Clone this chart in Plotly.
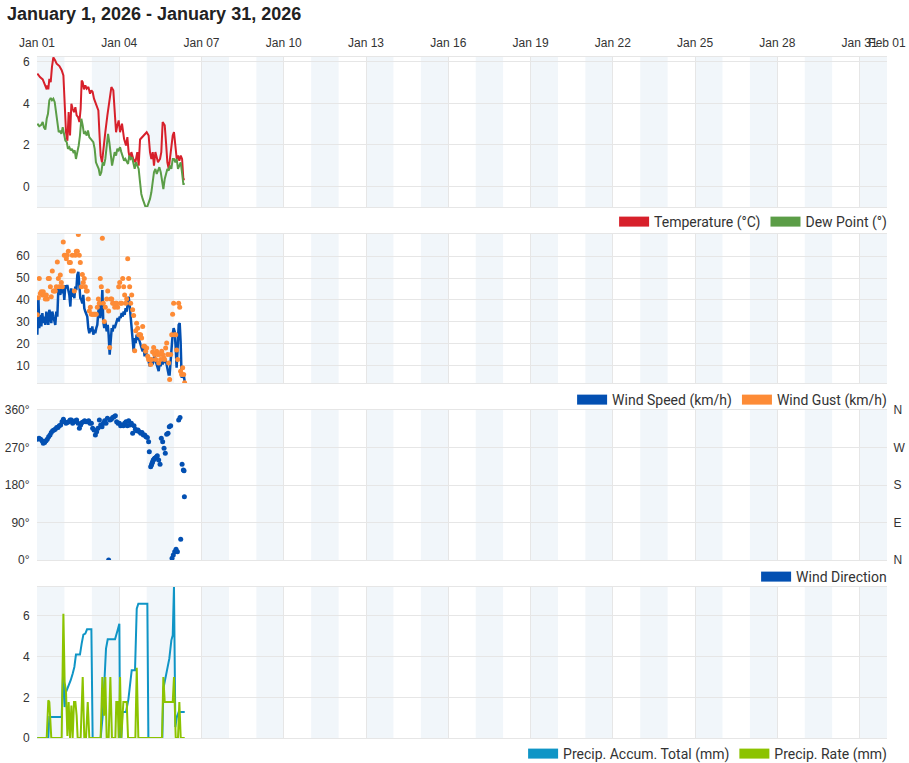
import pandas as pd
import plotly.graph_objects as go

START = pd.Timestamp("2026-01-01")
END = pd.Timestamp("2026-02-01")
TITLE = "January 1, 2026 - January 31, 2026"

# observations as (hours since Jan 1 00:00, value)
temperature = [
    (0.3, 5.44), (2.6, 5.27), (5.0, 5.16), (6.1, 5.03), (7.3, 4.87), (8.5, 4.68), (9.0, 4.87),
    (9.9, 4.68), (10.8, 5.19), (12.0, 5.03), (13.1, 5.76), (14.3, 6.22), (15.8, 6.08), (17.2, 5.92),
    (19.6, 5.8), (21.6, 5.6), (23.1, 5.35), (24.2, 3.58), (25.4, 2.6), (26.6, 2.2), (27.7, 3.58),
    (28.9, 2.45), (30.1, 3.98), (31.2, 3.74), (32.4, 3.58), (33.6, 3.82), (34.7, 3.42), (35.9, 3.34),
    (37.1, 3.1), (38.2, 3.74), (39.1, 5.11), (40.0, 5.03), (41.1, 4.68), (42.3, 4.87), (43.5, 4.71),
    (45.0, 4.79), (46.4, 4.47), (47.6, 4.63), (48.7, 4.55), (49.9, 4.23), (51.6, 3.98), (53.7, 3.66),
    (54.6, 2.61), (55.7, 1.48), (56.9, 1.16), (58.1, 1.65), (59.8, 2.61), (61.6, 3.42), (63.3, 4.06),
    (65.1, 4.79), (66.8, 4.63), (68.0, 3.26), (69.2, 2.61), (70.3, 2.94), (71.5, 3.18), (72.7, 2.61),
    (74.4, 3.02), (76.2, 2.29), (77.9, 1.97), (79.1, 2.37), (80.2, 1.65), (81.4, 1.32), (82.6, 1.65),
    (84.3, 1.32), (86.1, 1.16), (87.8, 1.65), (89.0, 1.0), (90.2, 2.26), (91.9, 2.37), (93.7, 2.45),
    (96.0, 2.61), (97.7, 2.45), (98.9, 1.65), (100.1, 1.32), (101.3, 1.65), (102.4, 1.0), (103.6, 1.65),
    (104.8, 1.4), (105.9, 1.16), (107.7, 1.32), (108.8, 1.65), (110.0, 3.1), (111.8, 2.94), (112.9, 2.13),
    (114.1, 1.16), (115.3, 0.84), (116.4, 1.32), (117.6, 1.65), (118.8, 2.45), (119.9, 2.61), (121.1, 1.81),
    (122.3, 1.32), (123.4, 1.48), (124.6, 1.24), (125.8, 1.48), (127.0, 1.32), (128.1, 0.35), (129.3, 0.32),
]

dew_point = [
    (0.3, 3.02), (2.0, 2.9), (3.8, 2.97), (5.0, 3.1), (6.1, 2.85), (7.3, 2.74), (8.5, 3.26), (9.6, 3.5),
    (10.8, 4.15), (12.0, 4.26), (13.1, 4.15), (14.3, 4.23), (15.5, 4.06), (16.6, 3.58), (17.8, 3.34),
    (19.0, 2.61), (20.1, 2.69), (21.3, 2.53), (22.5, 2.85), (23.6, 2.53), (24.8, 2.21), (26.0, 2.13),
    (27.1, 1.81), (28.3, 1.89), (29.5, 1.73), (30.6, 1.81), (31.8, 1.65), (33.0, 1.73), (34.1, 1.32),
    (35.3, 1.65), (36.5, 1.97), (37.6, 2.45), (38.8, 3.26), (40.0, 2.94), (41.1, 2.53), (42.3, 2.61),
    (43.5, 2.45), (44.6, 2.69), (45.8, 2.37), (47.0, 2.29), (48.1, 2.21), (49.3, 2.13), (50.5, 1.81),
    (51.6, 1.16), (52.8, 1.0), (54.0, 0.84), (55.1, 0.52), (56.3, 0.68), (57.5, 1.16), (58.6, 1.0),
    (59.8, 1.32), (61.0, 1.97), (62.2, 2.53), (63.3, 2.13), (64.5, 1.65), (65.7, 1.0), (66.8, 1.32),
    (68.0, 1.65), (69.2, 1.48), (70.3, 1.81), (71.5, 1.73), (72.7, 1.89), (73.8, 1.65), (75.0, 1.4),
    (76.2, 1.24), (77.3, 1.32), (78.5, 1.16), (79.7, 1.08), (80.8, 1.48), (82.0, 1.32), (83.2, 1.4),
    (84.3, 1.08), (85.5, 0.84), (86.7, 1.16), (87.8, 1.0), (89.0, 0.84), (90.2, 0.19), (91.3, -0.37),
    (92.5, -0.61), (93.7, -0.85), (94.8, -0.97), (96.6, -0.97), (97.8, -0.77), (98.9, -0.61),
    (100.1, -0.29), (101.3, 0.19), (102.4, 0.68), (103.6, 0.84), (104.8, 0.6), (105.9, 0.76),
    (107.1, 0.92), (108.3, 0.68), (109.4, 0.19), (110.6, -0.13), (111.8, 0.35), (112.9, 0.68),
    (114.1, 0.84), (115.3, 0.76), (116.4, 1.0), (117.6, 0.84), (118.8, 1.32), (119.9, 1.32),
    (121.1, 1.16), (122.3, 1.32), (123.4, 0.84), (124.6, 1.0), (125.8, 1.16), (126.9, 0.68),
    (128.1, 0.11), (129.3, 0.11),
]

# (hours, wind speed km/h, wind gust km/h)
wind = [
    (0.3, 24.1, 33.2), (1.2, 41.5, 41.0), (2.0, 27.1, 49.8), (2.9, 33.2, 43.0), (3.8, 27.9, 43.8),
    (4.7, 34.0, 42.3), (5.5, 29.4, 43.8), (6.4, 32.4, 42.3), (7.3, 28.6, 40.5), (8.2, 34.7, 42.3),
    (9.0, 31.7, 40.5), (9.9, 28.6, 49.8), (10.8, 35.5, 49.8), (11.7, 33.2, 46.1), (12.5, 29.4, 41.5),
    (13.4, 34.7, 53.3), (14.3, 32.4, 44.1), (15.2, 30.9, 44.1), (16.0, 28.6, 44.1), (16.9, 34.7, 46.1),
    (17.8, 32.4, 57.4), (18.7, 45.3, 49.8), (19.5, 43.8, 46.1), (20.4, 42.3, 51.4), (21.3, 46.1, 48.0),
    (22.2, 43.0, 46.1), (23.0, 46.1, 66.5), (23.9, 40.0, 60.5), (24.8, 46.8, 60.5), (25.7, 45.3, 58.9),
    (26.5, 46.8, 60.5), (27.4, 44.5, 62.3), (28.3, 42.3, 57.1), (29.2, 37.0, 57.1), (30.0, 45.3, 53.3),
    (30.9, 41.5, 60.5), (31.8, 43.0, 53.3), (32.7, 40.8, 44.1), (33.5, 46.1, 60.5), (34.4, 44.5, 62.3),
    (35.3, 51.4, 62.3), (36.2, 52.9, 70.0), (37.0, 47.6, 60.5), (37.9, 40.8, 57.1), (38.8, 40.0, 46.1),
    (39.7, 38.5, 51.7), (40.5, 42.3, 48.0), (41.4, 36.2, 49.8), (42.3, 34.7, 46.1), (43.2, 33.2, 44.1),
    (44.0, 32.4, 44.1), (44.9, 27.1, 40.5), (45.8, 24.8, 35.0), (46.7, 27.1, 36.7), (47.5, 25.6, 33.5),
    (48.4, 27.9, 33.5), (49.3, 24.1, 33.5), (50.2, 26.4, 33.5), (51.0, 24.8, 33.5), (51.9, 27.1, 33.5),
    (52.8, 28.6, 36.7), (53.7, 34.7, 40.5), (54.5, 37.7, 38.5), (55.4, 31.7, 49.8), (56.3, 35.5, 46.1),
    (57.2, 44.5, 68.3), (58.0, 30.2, 38.5), (58.9, 27.1, 30.2), (59.8, 30.2, 36.7), (61.0, 25.6, 40.5),
    (61.9, 28.6, 44.1), (62.7, 24.1, 35.0), (63.6, 15.0, 18.3), (64.5, 21.1, 40.5), (65.4, 27.1, 40.5),
    (66.2, 25.6, 38.5), (67.1, 28.6, 38.5), (68.0, 27.1, 36.7), (68.9, 28.6, 38.5), (69.7, 29.4, 38.5),
    (70.6, 31.7, 36.7), (71.5, 30.2, 46.1), (72.4, 32.4, 48.0), (73.2, 31.7, 38.5), (74.1, 34.0, 38.5),
    (75.0, 32.4, 49.8), (75.9, 34.7, 46.1), (76.7, 33.2, 42.3), (77.6, 36.2, 38.5), (78.5, 34.7, 40.5),
    (79.4, 40.0, 58.9), (80.2, 41.5, 49.8), (81.1, 37.7, 46.1), (82.0, 31.7, 38.5), (82.9, 27.1, 42.3),
    (83.7, 20.3, 35.5), (84.6, 16.5, 32.9), (85.5, 22.6, 16.8), (86.4, 20.3, 25.9), (87.2, 24.1, 29.4),
    (88.1, 21.8, 27.1), (89.0, 22.6, 24.1), (89.9, 20.3, 24.1), (90.7, 19.5, 24.1), (91.6, 18.0, 22.6),
    (92.5, 16.5, 27.9), (93.4, 18.0, 18.8), (94.2, 14.2, 18.8), (95.1, 16.5, 16.5), (96.0, 14.2, 18.0),
    (96.9, 13.5, 14.2), (97.7, 12.0, 12.7), (98.6, 9.7, 12.7), (99.5, 12.0, 10.5), (100.4, 13.5, 12.7),
    (101.2, 10.5, 16.2), (102.1, 12.7, 18.3), (103.0, 14.2, 15.0), (103.9, 12.0, 12.7), (104.7, 10.5, 16.5),
    (105.6, 9.0, 15.0), (106.5, 7.4, 11.2), (107.4, 11.2, 15.0), (108.2, 9.7, 12.7), (109.1, 12.0, 16.5),
    (110.0, 10.5, 15.0), (110.9, 12.7, 13.5), (111.7, 11.2, 12.7), (112.6, 12.7, 18.0), (113.5, 10.5, 20.3),
    (114.4, 9.0, 15.0), (115.2, 5.9, 11.2), (116.1, 5.9, 3.6), (117.0, 13.5, 15.0), (117.9, 19.5, 24.1),
    (118.7, 24.1, 33.5), (119.6, 27.1, 38.5), (120.5, 25.6, 24.1), (121.4, 18.0, 24.1), (122.2, 9.0, 17.1),
    (123.1, 18.0, 12.7), (124.0, 28.6, 38.5), (124.9, 29.4, 36.7), (125.7, 21.1, 7.4), (126.6, 4.4, 5.9),
    (127.5, 5.9, 9.0), (128.4, 5.9, 5.9), (129.2, 2.9, 2.1),
]

wind_direction = [
    (0.3, 290), (1.8, 292), (3.2, 290), (4.4, 286), (5.5, 280), (6.7, 282), (7.9, 286), (9.0, 290),
    (10.2, 296), (11.4, 300), (12.5, 306), (13.7, 310), (14.9, 312), (16.0, 314), (17.2, 318), (18.4, 318),
    (19.5, 322), (20.7, 324), (21.9, 332), (23.1, 338), (24.2, 332), (25.4, 328), (26.6, 330), (27.7, 332),
    (28.9, 336), (30.1, 336), (31.2, 328), (32.4, 332), (33.6, 334), (34.7, 336), (35.9, 328), (37.1, 316),
    (38.2, 324), (39.4, 330), (40.6, 332), (41.7, 334), (42.9, 332), (44.1, 332), (45.2, 334), (46.4, 328),
    (47.6, 328), (48.7, 316), (49.9, 312), (51.1, 300), (52.2, 308), (53.4, 316), (54.6, 336), (55.7, 324),
    (56.9, 320), (58.1, 328), (59.2, 334), (60.4, 328), (61.6, 340), (62.7, 0), (63.9, 336), (65.1, 338),
    (66.2, 342), (67.4, 344), (68.6, 346), (69.7, 332), (70.9, 328), (72.1, 328), (73.2, 322), (74.4, 324),
    (75.6, 322), (76.7, 328), (77.9, 332), (79.1, 322), (80.2, 334), (81.4, 324), (82.6, 328), (83.7, 304),
    (84.9, 322), (86.1, 314), (87.2, 310), (88.4, 312), (89.6, 308), (90.8, 304), (91.9, 306), (93.1, 300),
    (94.3, 300), (95.4, 296), (96.6, 294), (97.7, 284), (98.3, 260), (99.5, 224), (100.2, 228),
    (100.7, 232), (101.2, 236), (101.8, 240), (102.4, 242), (103.0, 244), (103.6, 245), (104.2, 246),
    (104.8, 248), (105.3, 250), (106.5, 240), (107.7, 230), (108.8, 292), (110.0, 284), (111.2, 268),
    (112.3, 256), (113.5, 302), (114.7, 304), (115.8, 320), (117.0, 322), (118.2, 4), (119.3, 12),
    (120.5, 20), (121.7, 26), (122.9, 20), (124.0, 336), (125.2, 342), (125.8, 50), (127.0, 230),
    (128.1, 216), (128.7, 214), (129.0, 152),
]

precip_total = [
    (0.3, 0), (9.9, 0), (10.8, 1.03), (21.6, 1.03), (23.1, 3.57), (24.2, 1.52), (25.4, 2.26), (26.8, 2.43),
    (28.0, 2.59), (29.5, 2.84), (31.2, 3.16), (32.7, 3.49), (34.1, 4.1), (37.6, 4.1), (39.1, 4.64),
    (40.6, 5.08), (42.3, 5.13), (43.8, 5.34), (47.6, 5.34), (48.7, 0), (55.7, 0), (57.5, 1.1),
    (58.7, 2.43), (60.4, 4.39), (61.9, 4.85), (68.3, 4.85), (70.3, 5.25), (72.1, 5.62), (72.7, 0),
    (73.8, 0), (74.7, 1.28), (77.9, 1.28), (80.0, 1.9), (81.4, 2.6), (82.9, 3.33), (85.8, 3.33),
    (87.3, 6.36), (88.7, 6.6), (96.6, 6.6), (97.5, 0), (109.7, 0), (110.6, 2.43), (113.5, 3.33),
    (115.8, 3.9), (117.6, 4.8), (118.8, 5.05), (119.9, 7.43), (121.1, 0.54), (122.3, 1.0),
    (124.0, 1.28), (129.3, 1.28),
]

precip_rate = [
    (0.3, 0), (8.5, 0), (9.9, 1.85), (10.8, 1.77), (12.5, 0), (21.6, 0), (23.1, 6.11), (24.2, 2.75),
    (25.4, 2.26), (26.6, 0.1), (27.7, 1.77), (28.9, 0), (30.1, 1.6), (31.2, 0), (32.4, 1.77),
    (33.6, 1.77), (34.7, 1.1), (35.6, 0), (38.2, 0), (40.0, 3.0), (41.4, 0), (42.9, 0), (44.4, 1.77),
    (45.8, 0), (55.7, 0), (57.2, 3.0), (58.7, 1.1), (59.8, 3.0), (61.0, 0), (62.7, 0), (64.2, 3.0),
    (65.6, 0), (68.6, 0), (69.4, 1.77), (70.6, 1.77), (71.5, 0), (72.7, 3.0), (73.8, 0), (75.6, 1.77),
    (78.5, 1.77), (79.7, 0), (86.1, 0), (87.3, 3.45), (88.7, 0), (109.4, 0), (110.6, 3.0),
    (111.8, 1.77), (118.8, 1.77), (119.9, 3.0), (121.4, 0), (123.4, 0), (124.6, 1.77), (125.8, 0),
    (129.3, 0),
]

tick_dates = ["2026-01-01", "2026-01-04", "2026-01-07", "2026-01-10", "2026-01-13", "2026-01-16",
              "2026-01-19", "2026-01-22", "2026-01-25", "2026-01-28", "2026-01-31", "2026-02-01"]
dir_ticks = [0, 90, 180, 270, 360]
dir_labels = ["0°", "90°", "180°", "270°", "360°"]
compass_labels = ["N", "E", "S", "W", "N"]

GRID = "#e6e6e6"
BAND = "#f1f6fa"
TEXT = "#333333"
RED, GREEN = "#d7202b", "#5b9d47"
BLUE, ORANGE = "#0350b2", "#fd8b36"
TEAL, LIME = "#0f95c6", "#8cc300"


def times(hours):
    return [START + pd.Timedelta(hours=h) for h in hours]


def split(obs):
    cols = list(zip(*obs))
    return [times(cols[0])] + [list(c) for c in cols[1:]]


fig = go.Figure()

t, v = split(temperature)
fig.add_trace(go.Scatter(x=t, y=v, mode="lines", line=dict(color=RED, width=2),
                         xaxis="x", yaxis="y", showlegend=False))
t, v = split(dew_point)
fig.add_trace(go.Scatter(x=t, y=v, mode="lines", line=dict(color=GREEN, width=2),
                         xaxis="x", yaxis="y", showlegend=False))

t, spd, gst = split(wind)
fig.add_trace(go.Scatter(x=t, y=spd, mode="lines", line=dict(color=BLUE, width=2.5),
                         xaxis="x2", yaxis="y2", showlegend=False))
fig.add_trace(go.Scatter(x=t, y=gst, mode="markers", marker=dict(color=ORANGE, size=5),
                         xaxis="x2", yaxis="y2", showlegend=False))

t, v = split(wind_direction)
fig.add_trace(go.Scatter(x=t, y=v, mode="markers", marker=dict(color=BLUE, size=5),
                         xaxis="x3", yaxis="y3", showlegend=False))
fig.add_trace(go.Scatter(x=[None], y=[None], xaxis="x3", yaxis="y5", showlegend=False))

t, v = split(precip_total)
fig.add_trace(go.Scatter(x=t, y=v, mode="lines", line=dict(color=TEAL, width=2),
                         xaxis="x4", yaxis="y4", showlegend=False))
t, v = split(precip_rate)
fig.add_trace(go.Scatter(x=t, y=v, mode="lines", line=dict(color=LIME, width=2),
                         xaxis="x4", yaxis="y4", showlegend=False))

# legend swatches
legend_items = [
    ("Temperature (°C)", RED, "legend"), ("Dew Point (°)", GREEN, "legend"),
    ("Wind Speed (km/h)", BLUE, "legend2"), ("Wind Gust (km/h)", ORANGE, "legend2"),
    ("Wind Direction", BLUE, "legend3"),
    ("Precip. Accum. Total (mm)", TEAL, "legend4"), ("Precip. Rate (mm)", LIME, "legend4"),
]
for name, color, leg in legend_items:
    fig.add_trace(go.Scatter(x=[None], y=[None], mode="lines", name=name,
                             line=dict(color=color, width=10), legend=leg))

# alternating day bands
band_days = pd.date_range(START, END - pd.Timedelta(days=1), freq="2D")
for xa, ya in [("x", "y"), ("x2", "y2"), ("x3", "y3"), ("x4", "y4")]:
    for day in band_days:
        fig.add_shape(type="rect", xref=xa, yref=f"{ya} domain", x0=day,
                      x1=day + pd.Timedelta(days=1), y0=0, y1=1,
                      fillcolor=BAND, line_width=0, layer="below")

common_x = dict(range=[START, END], tickvals=tick_dates, tickformat="%b %d", tickangle=0,
                showgrid=True, gridcolor=GRID, showline=True, mirror=True, linecolor=GRID,
                zeroline=False, fixedrange=True, automargin=False)
common_y = dict(showgrid=True, gridcolor=GRID, zeroline=False, showline=False, fixedrange=True,
                ticks="outside", ticklen=4, tickcolor="rgba(0,0,0,0)", automargin=False)

fig.update_layout(
    width=909, height=763,
    margin=dict(l=37, r=22, t=57, b=25, autoexpand=False),
    paper_bgcolor="white", plot_bgcolor="white",
    font=dict(family="Liberation Sans, Arial, sans-serif", size=12, color=TEXT),
    title=dict(text=f"<b>{TITLE}</b>", x=0.0, xref="container", xanchor="left",
               y=1 - 14 / 763, yref="container", yanchor="middle", pad=dict(l=7, t=0, b=0, r=0),
               font=dict(size=18, color="#222222"), automargin=False),
    hovermode=False,
    xaxis=dict(**common_x, anchor="y", side="top", ticks="outside", ticklen=4,
               tickcolor="rgba(0,0,0,0)"),
    xaxis2=dict(**common_x, anchor="y2", matches="x", showticklabels=False),
    xaxis3=dict(**common_x, anchor="y3", matches="x", showticklabels=False),
    xaxis4=dict(**common_x, anchor="y4", matches="x", showticklabels=False),
    yaxis=dict(**common_y, domain=[0.7797, 1.0], range=[-1.0, 6.24], tickvals=[0, 2, 4, 6], anchor="x"),
    yaxis2=dict(**common_y, domain=[0.5213, 0.7401], range=[2, 70.2],
                tickvals=[10, 20, 30, 40, 50, 60], anchor="x2"),
    yaxis3=dict(**common_y, domain=[0.2614, 0.4816], range=[0, 360], tickvals=dir_ticks,
                ticktext=dir_labels, anchor="x3"),
    yaxis4=dict(**common_y, domain=[0, 0.2217], range=[0, 7.42], tickvals=[0, 2, 4, 6], anchor="x4"),
    yaxis5=dict(overlaying="y3", side="right", anchor="x3", range=[0, 360], tickvals=dir_ticks,
                ticktext=compass_labels, showgrid=False, zeroline=False, fixedrange=True,
                ticks="outside", ticklen=3, tickcolor="rgba(0,0,0,0)", automargin=False),
)

legend_y = {"legend": 0.7577, "legend2": 0.4963, "legend3": 0.2364, "legend4": -0.0235}
for leg, y in legend_y.items():
    fig.update_layout({leg: dict(orientation="h", x=1.006, xanchor="right", y=y, yanchor="middle",
                                 bgcolor="rgba(0,0,0,0)", itemclick=False, itemdoubleclick=False,
                                 font=dict(family="Roboto, sans-serif", size=14, color=TEXT))})

# the default page puts an 8px margin round the body; drop it so the chart sits at 0,0
fig.write_html("out.html", config={"displayModeBar": False},
               post_script="document.body.style.margin = '0';")
